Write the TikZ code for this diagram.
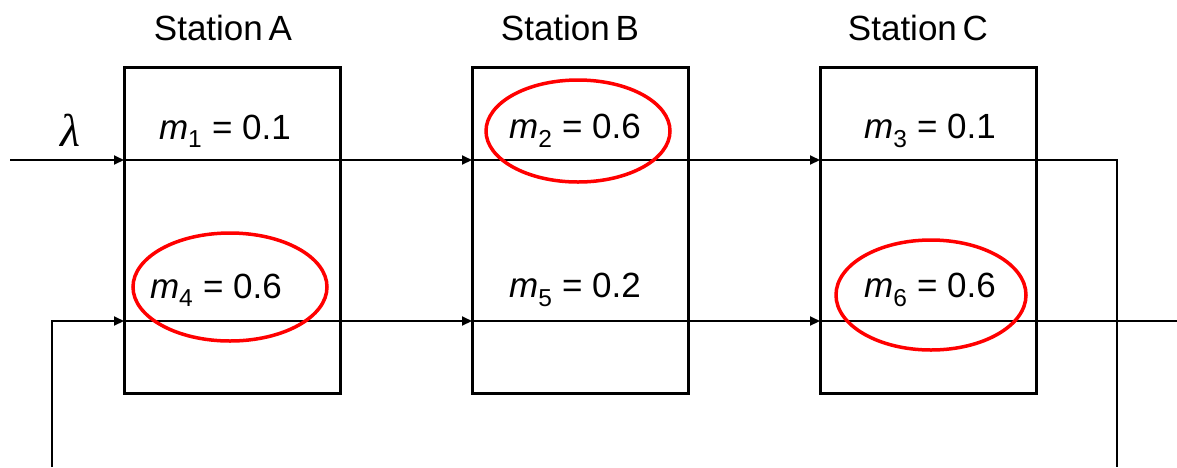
\documentclass[tikz,border=0pt]{standalone}
\usepackage{fontspec}
\setmainfont{Liberation Sans}
\newfontfamily\lamfont{Liberation Serif}
\usetikzlibrary{arrows.meta}
\begin{document}
\begin{tikzpicture}[x=1pt,y=-1pt,
  station/.style={draw,line width=3pt,minimum width=216pt,minimum height=326pt,inner sep=0pt},
  flow/.style={line width=2pt},
  arr/.style={flow,-{Triangle[length=10pt,width=9pt]}},
  lbl/.style={font=\fontsize{35}{40}\selectfont,inner sep=0pt},
  hl/.style={draw=red,line width=3.5pt}]
\useasboundingbox (0,0) rectangle (1177,467);
\node[station] (A) at (232,230) {};
\node[station] (B) at (580,230) {};
\node[station] (C) at (928,230) {};
\node[lbl] (tA) at (223,28) {Station\,A};
\node[lbl] (tB) at (570,28) {Station\,B};
\node[lbl] (tC) at (918,28) {Station\,C};
\node[font=\fontsize{46}{50}\selectfont\lamfont\itshape,inner sep=0pt] (lam) at (70,130) {λ};
\node[lbl] (m1) at (225,131) {\textit{m}\textsubscript{1} = 0.1};
\node[lbl] (m2) at (575,131) {\textit{m}\textsubscript{2} = 0.6};
\node[lbl] (m3) at (930,131) {\textit{m}\textsubscript{3} = 0.1};
\node[lbl] (m4) at (216,290) {\textit{m}\textsubscript{4} = 0.6};
\node[lbl] (m5) at (575,290) {\textit{m}\textsubscript{5} = 0.2};
\node[lbl] (m6) at (930,290) {\textit{m}\textsubscript{6} = 0.6};
% top row
\coordinate (in) at (10,160);
\coordinate (Ai1) at (124,160);
\coordinate (Bi1) at (472,160);
\coordinate (Ci1) at (820,160);
\coordinate (Ao1) at (340,160);
\coordinate (Bo1) at (688,160);
\coordinate (tr) at (1117,160);
\coordinate (br) at (1117,467);
\draw[arr] (in) -- (Ai1);
\draw[flow] (Ai1) -- (Ao1);
\draw[arr] (Ao1) -- (Bi1);
\draw[flow] (Bi1) -- (Bo1);
\draw[arr] (Bo1) -- (Ci1);
\draw[flow] (Ci1) -- (tr) -- (br);
% bottom row
\coordinate (bl) at (52,467);
\coordinate (blc) at (52,321);
\coordinate (Ai2) at (124,321);
\coordinate (Bi2) at (472,321);
\coordinate (Ci2) at (820,321);
\coordinate (Ao2) at (340,321);
\coordinate (Bo2) at (688,321);
\coordinate (out) at (1177,321);
\draw[arr] (bl) -- (blc) -- (Ai2);
\draw[flow] (Ai2) -- (Ao2);
\draw[arr] (Ao2) -- (Bi2);
\draw[flow] (Bi2) -- (Bo2);
\draw[arr] (Bo2) -- (Ci2);
\draw[flow] (Ci2) -- (out);
% highlights
\draw[hl] (578,131) ellipse [x radius=92,y radius=51];
\draw[hl] (230,287) ellipse [x radius=97,y radius=54];
\draw[hl] (931,295) ellipse [x radius=95,y radius=55];
\end{tikzpicture}
\end{document}
